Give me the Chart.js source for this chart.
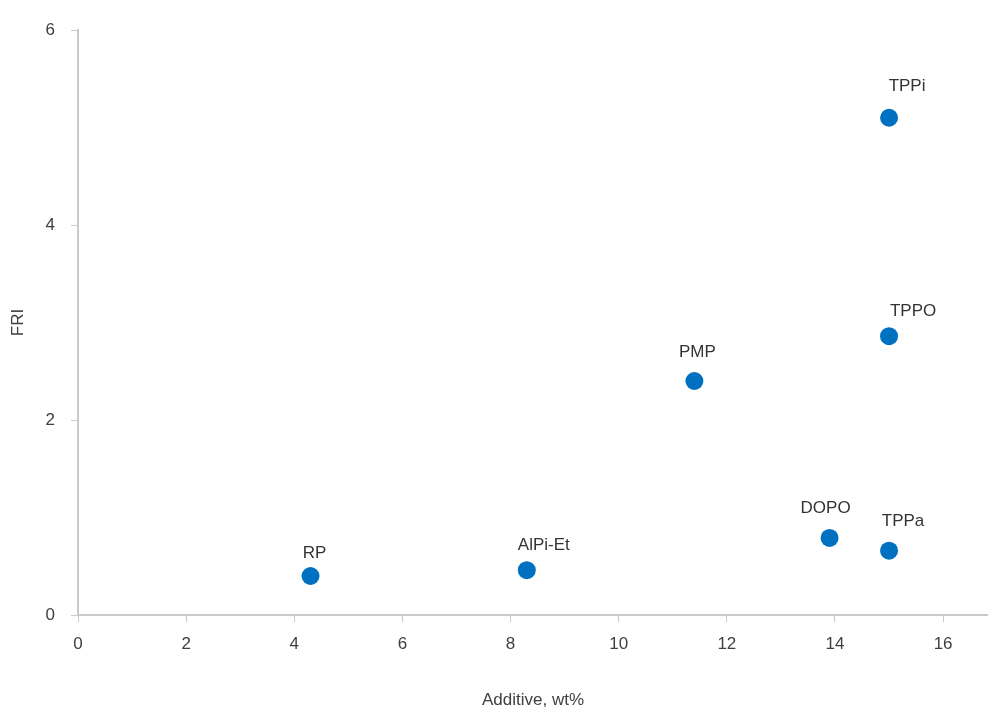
<!DOCTYPE html>
<html>
<head>
<meta charset="utf-8">
<style>
  html, body { margin: 0; padding: 0; background: #fff; overflow: hidden; }
  #wrap { position: relative; width: 988px; height: 713px; }
  #chart { display: block; }
</style>
<script src="https://cdn.jsdelivr.net/npm/chart.js@4/dist/chart.umd.min.js"></script>
</head>
<body>
<div id="wrap"><canvas id="chart"></canvas></div>
<script>
const names = ['RP', 'AlPi-Et', 'PMP', 'DOPO', 'TPPa', 'TPPO', 'TPPi'];
const additive = [4.3, 8.3, 11.4, 13.9, 15.0, 15.0, 15.0];
const fri = [0.40, 0.46, 2.40, 0.79, 0.66, 2.86, 5.10];
const xTicks = [0, 2, 4, 6, 8, 10, 12, 14, 16];
const yTicks = [0, 2, 4, 6];

// where each name sits relative to its dot (px)
const labelOffsets = [[4, -23], [17, -25], [3, -29], [-4, -30], [14, -29], [24, -25], [18, -31]];

const pointLabels = {
    id: 'pointLabels',
    afterDatasetsDraw(chart) {
        const ctx = chart.ctx;
        const meta = chart.getDatasetMeta(0);
        ctx.save();
        ctx.font = '17px "Liberation Sans", Arial, sans-serif';
        ctx.fillStyle = '#333333';
        ctx.textAlign = 'center';
        ctx.textBaseline = 'middle';
        meta.data.forEach((pt, i) => {
            const off = labelOffsets[i];
            ctx.fillText(names[i], pt.x + off[0], pt.y + off[1]);
        });
        ctx.restore();
    }
};

const axisFont = { family: '"Liberation Sans", Arial, sans-serif', size: 17 };

new Chart(document.getElementById('chart'), {
    type: 'scatter',
    data: {
        datasets: [{
            data: additive.map((x, i) => ({ x: x, y: fri[i] })),
            backgroundColor: '#0070C0',
            borderWidth: 0,
            pointRadius: 9,
            pointHoverRadius: 9,
            clip: false
        }]
    },
    options: {
        responsive: true,
        maintainAspectRatio: false,
        animation: false,
        events: [],
        layout: { autoPadding: false, padding: { top: 30, right: 0, bottom: 0, left: 0 } },
        plugins: {
            legend: { display: false },
            tooltip: { enabled: false }
        },
        scales: {
            x: {
                type: 'linear',
                min: 0,
                max: 16.83,
                afterBuildTicks: (axis) => { axis.ticks = xTicks.map(v => ({ value: v })); },
                afterFit: (axis) => { axis.height = 98; axis.paddingRight = 0; },
                border: { color: '#c9c9c9', width: 2 },
                grid: { drawOnChartArea: false, drawTicks: true, tickLength: 7, tickColor: '#c9c9c9' },
                ticks: { font: axisFont, color: '#404040', padding: 12, maxRotation: 0 },
                title: {
                    display: true,
                    text: 'Additive, wt%',
                    font: axisFont,
                    color: '#404040',
                    padding: { top: 0, bottom: 2 }
                }
            },
            y: {
                type: 'linear',
                min: 0,
                max: 6,
                afterBuildTicks: (axis) => { axis.ticks = yTicks.map(v => ({ value: v })); },
                afterFit: (axis) => { axis.width = 78; },
                border: { color: '#c9c9c9', width: 2 },
                grid: { drawOnChartArea: false, drawTicks: true, tickLength: 7, tickColor: '#c9c9c9' },
                ticks: { font: axisFont, color: '#404040', padding: 16 },
                title: {
                    display: true,
                    text: 'FRI',
                    font: axisFont,
                    color: '#404040',
                    padding: { top: 8, bottom: 0 }
                }
            }
        }
    },
    plugins: [pointLabels]
});
</script>
</body>
</html>
